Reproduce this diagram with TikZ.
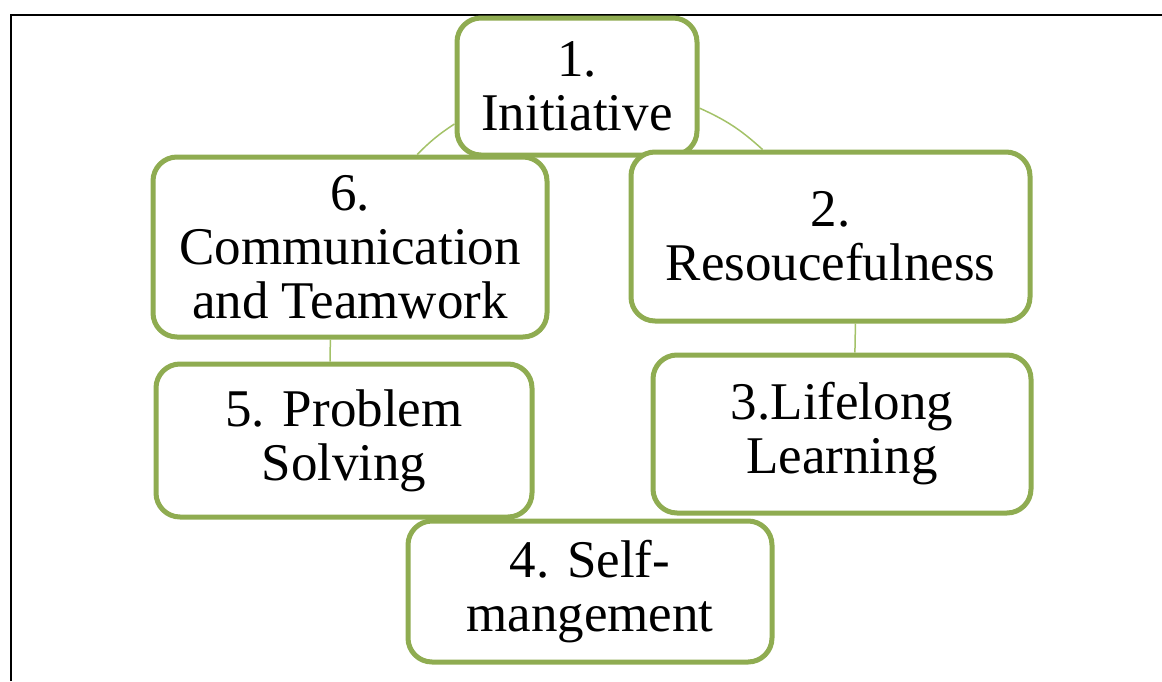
\documentclass[tikz,border=0pt]{standalone}
\usepackage{fontspec}
\setmainfont{Liberation Serif}
\usepackage{xcolor}

\definecolor{boxgreen}{RGB}{143,172,81}
\definecolor{linkgreen}{RGB}{163,194,104}

\tikzset{
	skillbox/.style={draw=boxgreen, line width=5pt, fill=white, rounded corners=24pt,
		align=center, inner sep=0pt, font=\fontsize{53}{54}\selectfont},
	link/.style={draw=linkgreen, line width=1.5pt}
}

\begin{document}
\begin{tikzpicture}[x=1pt,y=-1pt]
			\useasboundingbox (0,0) rectangle (1162,681);
			\draw[line width=2.5pt] (11,681) -- (11,15) -- (1162,15);

			\node[skillbox, minimum width=240pt, minimum height=137pt] (n1) at (577,86.5) {1.\\Initiative};
			\node[skillbox, minimum width=399pt, minimum height=169pt] (n2) at (830.5,236.5) {2.\\Resoucefulness};
			\node[skillbox, minimum width=378pt, minimum height=158pt] (n3) at (842,434) {3.Lifelong\\Learning};
			\node[skillbox, minimum width=364pt, minimum height=141pt] (n4) at (590,591.5) {4. Self-\\mangement};
			\node[skillbox, minimum width=376pt, minimum height=153pt] (n5) at (344,440.5) {5. Problem\\Solving};
			\node[skillbox, minimum width=394pt, minimum height=180pt] (n6) at (350,247) {6.\\Communication\\and Teamwork};

			\draw[link] (n1.-10) to[bend left=9] (n2.128);
			\draw[link] (n2.-74) -- (n3.81);
			\draw[link] (n6.258) -- (n5.100);
			\draw[link] (n1.197) to[bend right=6] (n6.54);
		\end{tikzpicture}
\end{document}
